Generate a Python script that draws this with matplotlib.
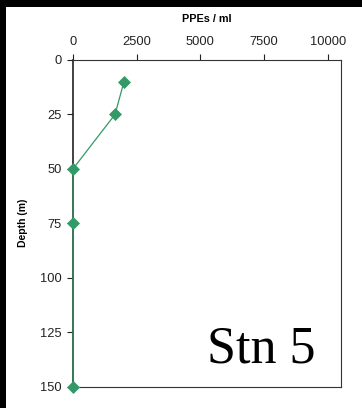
import matplotlib.pyplot as plt
from matplotlib.patches import Rectangle

depth = [10, 25, 50, 75, 150]
ppes = [2000, 1650, 0, 0, 0]
x_ticks = [0, 2500, 5000, 7500, 10000]
y_ticks = [0, 25, 50, 75, 100, 125, 150]

W, H = 362, 408
fig = plt.figure(figsize=(W / 100, H / 100), dpi=100, facecolor='black')
fig.patches.append(Rectangle((6 / W, 0), 1, 1 - 7 / H, transform=fig.transFigure,
                             facecolor='white', edgecolor='none', zorder=-10))

ax = fig.add_axes([73 / W, 1 - 386.5 / H, (340.5 - 73) / W, (386.5 - 60) / H])
ax.plot(ppes, depth, color='#339966', lw=0.9, marker='D', ms=6.2,
        mec='#339966', mew=0.5, clip_on=False, zorder=5)

ax.set_xlim(0, 10500)
ax.set_ylim(150, 0)
ax.set_xticks(x_ticks)
ax.set_yticks(y_ticks)
ax.xaxis.tick_top()
ax.xaxis.set_label_position('top')
ax.tick_params(axis='both', direction='out', length=4, width=0.8, labelsize=9.3,
               colors='#222222')
ax.tick_params(axis='x', pad=4.5)
ax.tick_params(axis='y', pad=4)
for lab in ax.get_xticklabels() + ax.get_yticklabels():
    lab.set_family('Liberation Sans')

for sp in ax.spines.values():
    sp.set_linewidth(0.8)
    sp.set_color('#333333')
ax.spines['left'].set_color('#222222')
ax.spines['left'].set_linewidth(1.2)

ax.set_xlabel('PPEs / ml', fontsize=7.8, fontweight='bold', family='Liberation Sans', labelpad=10)
ax.set_ylabel('Depth (m)', fontsize=7.5, fontweight='bold', family='Liberation Sans', labelpad=9)

ax.text(0.908, 0.072, 'Stn 5', transform=ax.transAxes, ha='right', va='baseline',
        fontsize=37.5, family='Liberation Serif')

fig.savefig('out.png', dpi=100, facecolor='black')
